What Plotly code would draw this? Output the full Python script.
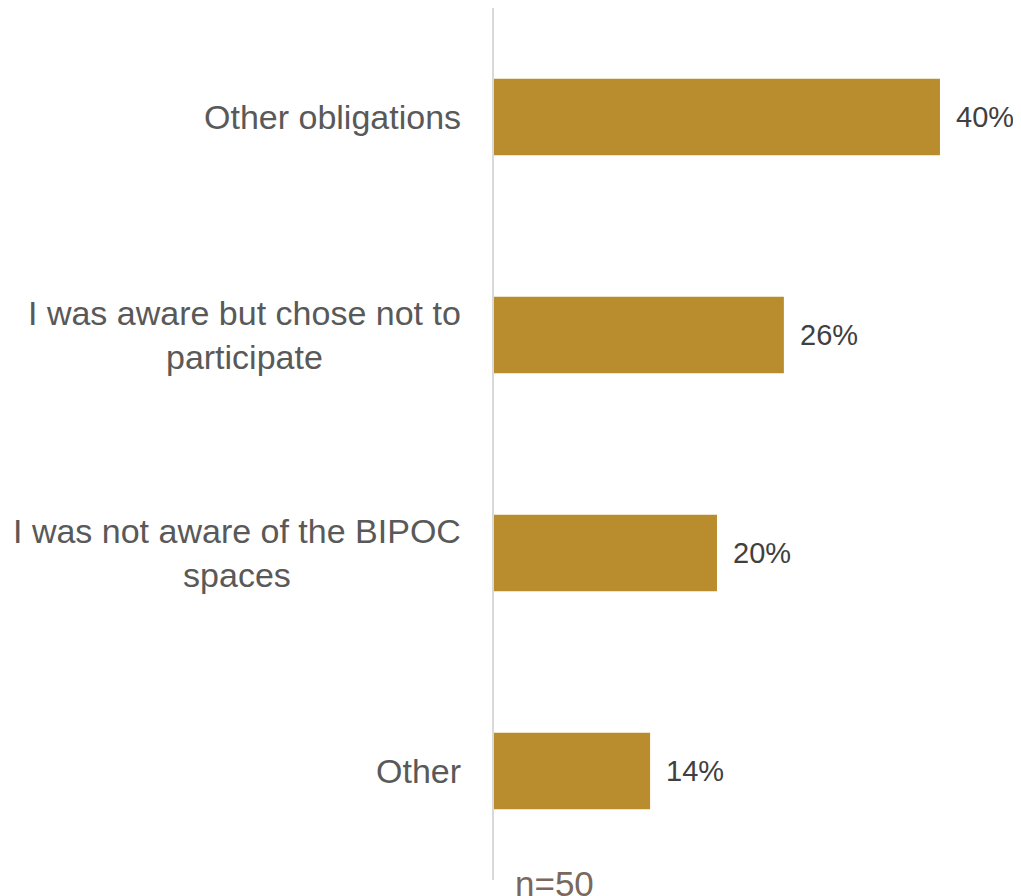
import plotly.graph_objects as go

categories = ["Other obligations", "I was aware but chose not to<br>participate",
              "I was not aware of the BIPOC<br>spaces", "Other"]
values = [40, 26, 20, 14]
value_labels = ["40%", "26%", "20%", "14%"]
note = "n=50"

FONT = "Liberation Sans, Arial, sans-serif"

fig = go.Figure()
fig.add_trace(go.Bar(
    y=categories, x=values, orientation="h",
    marker=dict(color="#B98C2E", line=dict(width=0)),
    hoverinfo="skip",
))
for c, v, t in zip(categories, values, value_labels):
    fig.add_annotation(x=v, y=c, text=t, showarrow=False, xanchor="left",
                       xshift=14, font=dict(family=FONT, size=29, color="#404040"))
    fig.add_annotation(xref="paper", x=0, y=c, text=c, showarrow=False,
                       xanchor="right", align="center", xshift=-31,
                       font=dict(family=FONT, size=34, color="#595959"))
fig.add_annotation(xref="paper", yref="paper", x=0.036, y=0, yanchor="top",
                   xanchor="left", yshift=18, text=note, showarrow=False,
                   font=dict(family=FONT, size=35, color="#7B675C"))

fig.update_layout(
    width=1013, height=888,
    margin=dict(l=486, r=3, t=0, b=16, autoexpand=False),
    plot_bgcolor="white", paper_bgcolor="white",
    bargap=0.65, showlegend=False,
    xaxis=dict(range=[0, 47], visible=False, fixedrange=True, automargin=False),
    yaxis=dict(autorange="reversed", showline=True, linecolor="#D9D9D9", linewidth=2,
               ticks="", showticklabels=False, showgrid=False, automargin=False),
)
fig.write_html("out.html")
